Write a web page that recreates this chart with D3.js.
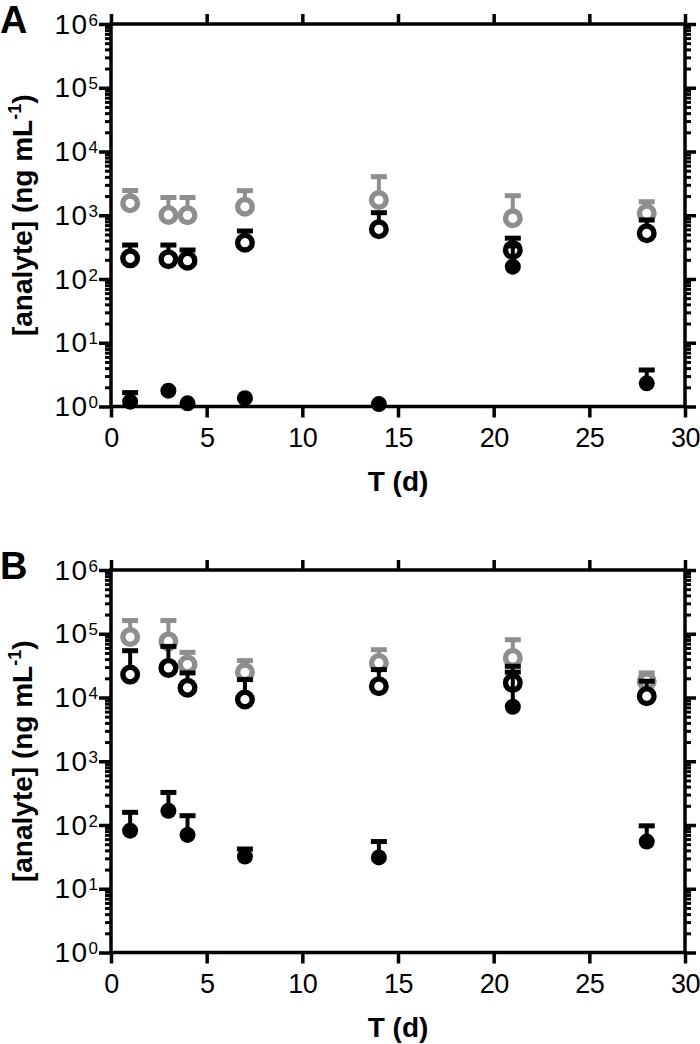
<!DOCTYPE html>
<html>
<head>
<meta charset="utf-8">
<script src="https://cdn.jsdelivr.net/npm/d3@7"></script>
<style>
body { margin: 0; background: #fff; }
svg { display: block; font-family: "Liberation Sans", Arial, sans-serif; }
</style>
</head>
<body>
<svg id="chart" width="700" height="1044"></svg>
<script>
var days = [1, 3, 4, 7, 14, 21, 28];
var xTickValues = [0, 5, 10, 15, 20, 25, 30];
var decades = [0, 1, 2, 3, 4, 5, 6];

// panel A : mean and mean+SD
var grayA      = [1540, 1010, 1000, 1360, 1735, 896, 1073];
var grayTopA   = [2445, 1900, 1900, 2430, 4030, 2027, 1630];
var openA      = [211, 204, 194, 371, 602, 285, 521];
var openTopA   = [341, 341, 285, 566, 1097, 437, 842];
var filledA    = [1.19, 1.77, 1.12, 1.35, 1.09, 156, 2.31];
var filledTopA = [1.65, 1.77, 1.12, 1.35, 1.09, 330, 3.74];

// panel B
var grayB      = [88800, 75900, 32800, 24900, 34800, 41700, 18000];
var grayTopB   = [161000, 161000, 51000, 37900, 56200, 80600, 24300];
var openB      = [22900, 29100, 14200, 9300, 15000, 17000, 10500];
var openTopB   = [54200, 63300, 24300, 19100, 27400, 30900, 18000];
var filledB    = [81.5, 167, 69.8, 32, 31, 7160, 55];
var filledTopB = [158, 324, 140, 42, 55, 25000, 97];

var gray = "#8e8e8e", black = "#000";
var svg = d3.select("#chart");
var plotLeft = 111, plotRight = 685, plotHeight = 382.5;

function drawSeries(g, x, y, values, tops, color, filled) {
    var pts = days.map(function(d, i) { return {t: d, v: values[i], top: tops[i]}; }),
        bars = pts.filter(function(d) { return d.top > d.v; }),
        s = g.append("g");

    s.selectAll("line.stem").data(bars).enter().append("line")
        .attr("class", "stem")
        .attr("x1", function(d) { return x(d.t); })
        .attr("x2", function(d) { return x(d.t); })
        .attr("y1", function(d) { return y(d.v); })
        .attr("y2", function(d) { return y(d.top); })
        .attr("stroke", color).attr("stroke-width", 4);

    s.selectAll("line.cap").data(bars).enter().append("line")
        .attr("class", "cap")
        .attr("x1", function(d) { return x(d.t) - 8; })
        .attr("x2", function(d) { return x(d.t) + 8; })
        .attr("y1", function(d) { return y(d.top); })
        .attr("y2", function(d) { return y(d.top); })
        .attr("stroke", color).attr("stroke-width", 5);

    s.selectAll("circle").data(pts).enter().append("circle")
        .attr("cx", function(d) { return x(d.t); })
        .attr("cy", function(d) { return y(d.v); })
        .attr("r", filled ? 8 : 7.3)
        .attr("fill", filled ? color : "#fff")
        .attr("stroke", filled ? "none" : color)
        .attr("stroke-width", 5.4);
}

function drawPanel(top, label, sets) {
    var bottom = top + plotHeight,
        x = d3.scaleLinear().domain([0, 30]).range([plotLeft, plotRight]),
        y = d3.scaleLog().domain([1, 1e6]).range([bottom, top]),
        g = svg.append("g"),
        majors = decades.map(function(e) { return Math.pow(10, e); }),
        minors = [];

    decades.slice(0, -1).forEach(function(e) {
        for (var k = 2; k < 10; k++) minors.push(k * Math.pow(10, e));
    });

    // ticks
    var axes = [
        {fn: d3.axisLeft(y).tickValues(minors).tickSize(6), tx: plotLeft, ty: 0, w: 3},
        {fn: d3.axisLeft(y).tickValues(majors).tickSize(12), tx: plotLeft, ty: 0, w: 3.5},
        {fn: d3.axisRight(y).tickValues(minors).tickSize(6), tx: plotRight, ty: 0, w: 3},
        {fn: d3.axisRight(y).tickValues(majors).tickSize(11), tx: plotRight, ty: 0, w: 3.5},
        {fn: d3.axisTop(x).tickValues(xTickValues).tickSize(10), tx: 0, ty: top, w: 3.5}
    ];
    axes.forEach(function(a) {
        var ag = g.append("g").attr("transform", "translate(" + a.tx + "," + a.ty + ")")
            .call(a.fn.tickFormat("").tickSizeOuter(0));
        ag.select(".domain").remove();
        ag.selectAll("line").attr("stroke", "#000").attr("stroke-width", a.w);
    });

    var xb = g.append("g").attr("transform", "translate(0," + bottom + ")")
        .call(d3.axisBottom(x).tickValues(xTickValues).tickSize(11).tickPadding(10).tickSizeOuter(0));
    xb.select(".domain").remove();
    xb.selectAll("line").attr("stroke", "#000").attr("stroke-width", 3.5);
    xb.selectAll("text").attr("fill", "#000").attr("font-size", 27)
        .attr("letter-spacing", -0.5)
        .attr("font-family", "'Liberation Sans', Arial, sans-serif");

    // frame
    g.append("rect")
        .attr("x", plotLeft).attr("y", top)
        .attr("width", plotRight - plotLeft).attr("height", plotHeight)
        .attr("fill", "none").attr("stroke", "#000").attr("stroke-width", 3.5);

    // y tick labels 10^n
    var lab = g.selectAll("text.ylab").data(decades).enter().append("text")
        .attr("class", "ylab")
        .attr("x", 98)
        .attr("y", function(e) { return y(Math.pow(10, e)) + 9.5; })
        .attr("text-anchor", "end")
        .attr("font-size", 28);
    lab.append("tspan").attr("letter-spacing", 1.5).text("10");
    lab.append("tspan").attr("font-size", 17).attr("dy", -8)
        .text(function(e) { return e; });

    // axis titles
    g.append("text")
        .attr("x", (plotLeft + plotRight) / 2).attr("y", bottom + 84)
        .attr("text-anchor", "middle")
        .attr("font-size", 28).attr("font-weight", "bold")
        .text("T (d)");

    var yt = g.append("text")
        .attr("transform", "translate(32," + (top + bottom) / 2 + ") rotate(-90)")
        .attr("text-anchor", "middle")
        .attr("font-size", 28).attr("font-weight", "bold");
    yt.append("tspan").text("[analyte] (ng mL");
    yt.append("tspan").attr("font-size", 18).attr("dy", -11).text("-1");
    yt.append("tspan").attr("dy", 11).text(")");

    g.append("text")
        .attr("x", 0).attr("y", top + 9)
        .attr("font-size", 38).attr("font-weight", "bold")
        .text(label);

    drawSeries(g, x, y, sets[0], sets[1], gray, false);
    drawSeries(g, x, y, sets[2], sets[3], black, false);
    drawSeries(g, x, y, sets[4], sets[5], black, true);
}

drawPanel(24, "A", [grayA, grayTopA, openA, openTopA, filledA, filledTopA]);
drawPanel(570, "B", [grayB, grayTopB, openB, openTopB, filledB, filledTopB]);
</script>
</body>
</html>
